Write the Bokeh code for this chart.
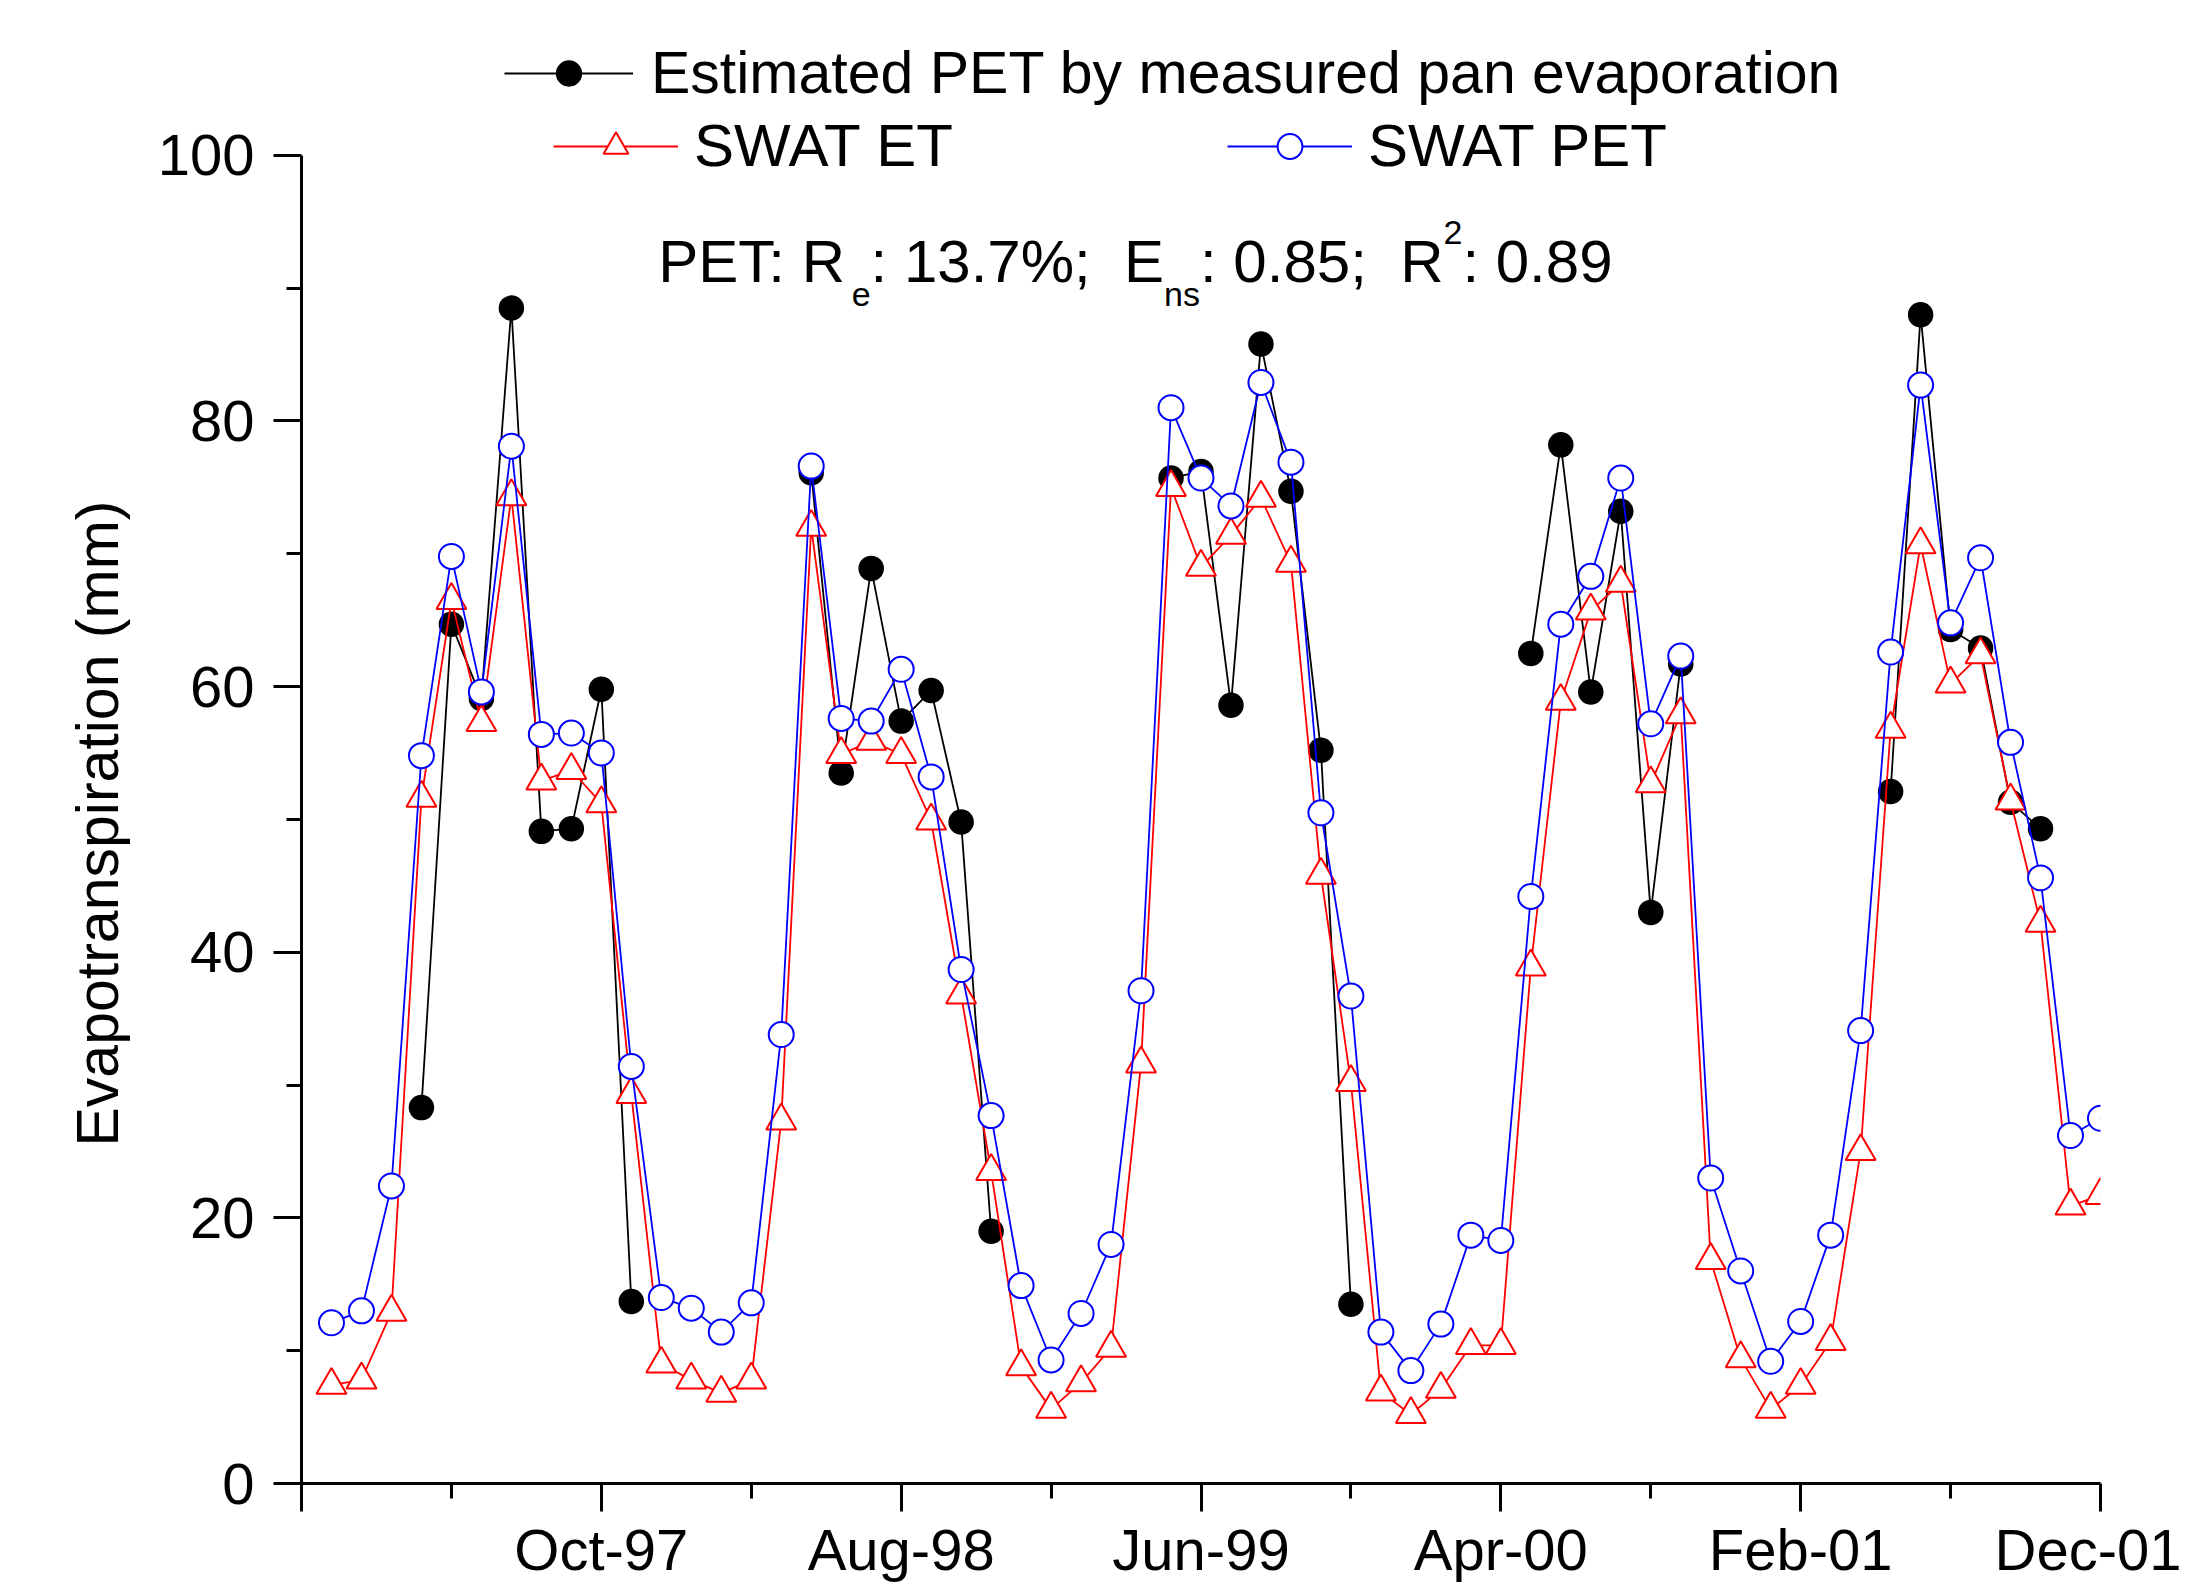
import math
from bokeh.plotting import figure
from bokeh.models import (ColumnDataSource, FixedTicker, Legend, LegendItem,
                          Label, Range1d, Title)
from bokeh.embed import file_html
from bokeh.resources import INLINE

# ---------------- data ----------------
month_names = ["Jan", "Feb", "Mar", "Apr", "May", "Jun",
               "Jul", "Aug", "Sep", "Oct", "Nov", "Dec"]
years = ["97", "98", "99", "00", "01"]
months = [f"{m}-{y}" for y in years for m in month_names]   # Jan-97 ... Dec-01

nan = float("nan")

estimated_pet = [nan, nan, nan, 28.3, 64.7, 59.1, 88.5, 49.1, 49.3, 59.8,
                 13.7, nan, nan, nan, nan, nan, 76.1, 53.5, 68.9, 57.4,
                 59.7, 49.8, 19.0, nan, nan, nan, nan, nan, 75.7, 76.2,
                 58.6, 85.8, 74.7, 55.2, 13.5, nan, nan, nan, nan, nan,
                 62.5, 78.2, 59.6, 73.2, 43.0, 61.7, nan, nan, nan, nan,
                 nan, nan, 52.1, 88.0, 64.3, 62.9, 51.3, 49.3, nan, nan]

swat_et = [7.4, 7.8, 12.9, 51.6, 66.5, 57.3, 74.3, 52.9, 53.7, 51.2,
           29.3, 9.0, 7.8, 6.8, 7.8, 27.3, 72.0, 54.9, 55.9, 54.9,
           49.9, 36.8, 23.5, 8.8, 5.6, 7.6, 10.2, 31.6, 75.0, 69.0,
           71.4, 74.2, 69.3, 45.8, 30.2, 6.9, 5.2, 7.1, 10.4, 10.4,
           38.9, 58.9, 65.7, 67.8, 52.7, 57.9, 16.8, 9.4, 5.6, 7.4,
           10.7, 25.0, 56.8, 70.7, 60.2, 62.4, 51.4, 42.2, 20.9, 21.7]

swat_pet = [12.1, 13.0, 22.4, 54.8, 69.8, 59.6, 78.1, 56.4, 56.5, 55.0,
            31.4, 14.0, 13.2, 11.4, 13.6, 33.8, 76.6, 57.6, 57.4, 61.3,
            53.2, 38.7, 27.7, 14.9, 9.3, 12.8, 18.0, 37.1, 81.0, 75.7,
            73.6, 82.9, 76.9, 50.5, 36.7, 11.4, 8.5, 12.0, 18.7, 18.3,
            44.2, 64.7, 68.3, 75.7, 57.2, 62.3, 23.0, 16.0, 9.2, 12.2,
            18.7, 34.1, 62.6, 82.7, 64.8, 69.7, 55.8, 45.6, 26.2, 27.5]

tick_labels = ["Oct-97", "Aug-98", "Jun-99", "Apr-00", "Feb-01", "Dec-01"]
y_ticks = [0, 20, 40, 60, 80, 100]
y_minor_ticks = [10, 30, 50, 70, 90]

series_names = ["Estimated PET by measured pan evaporation", "SWAT ET", "SWAT PET"]
y_title = "Evapotranspiration (mm)"
annotation_pieces = [("PET: R", "main"), ("e", "sub"), (": 13.7%;", "main"),
                     ("  ", "gap"), ("E", "main"), ("ns", "sub"),
                     (": 0.85;", "main"), ("  ", "gap"), ("R", "main"),
                     ("2", "sup"), (": 0.89", "main")]

# ---------------- build ----------------
x_idx = list(range(len(months)))
src = ColumnDataSource(dict(x=x_idx, pan=estimated_pet, et=swat_et, pet=swat_pet))

axis_start = -1                      # Dec-96, one month before the first record
x_end = months.index(tick_labels[-1])
y_axis_top = y_ticks[-1]
y_view_top = 110                     # head-room for the legend above the axis

FONT = "Liberation Sans"

p = figure(width=2181, height=1585,
           x_range=Range1d(axis_start, x_end), y_range=Range1d(0, y_view_top),
           output_backend="svg", toolbar_location=None,
           min_border_left=301, min_border_right=81,
           min_border_top=22, min_border_bottom=102)
p.background_fill_color = "white"
p.border_fill_color = "white"
p.outline_line_color = None
p.grid.visible = False

# series (black, then red, then blue on top)
rb_l = p.line("x", "pan", source=src, line_color="black", line_width=1.8)
rb_p = p.scatter("x", "pan", source=src, marker="circle", size=24,
                 fill_color="black", line_color="black", line_width=1.5)
rr_l = p.line("x", "et", source=src, line_color="#FF0000", line_width=1.8)
rr_p = p.scatter("x", "et", source=src, marker="triangle", size=30,
                 fill_color="white", line_color="#FF0000", line_width=2)
ru_l = p.line("x", "pet", source=src, line_color="#0000FF", line_width=1.8)
ru_p = p.scatter("x", "pet", source=src, marker="circle", size=25,
                 fill_color="white", line_color="#0000FF", line_width=2)

# axes
major_x = [axis_start] + [months.index(t) for t in tick_labels]
minor_x = [(a + b) / 2 for a, b in zip(major_x[:-1], major_x[1:])]
xa = p.xaxis[0]
xa.ticker = FixedTicker(ticks=major_x, minor_ticks=minor_x)
overrides = {axis_start: ""}
for t in tick_labels:
    overrides[months.index(t)] = t
xa.major_label_overrides = overrides
xa.major_label_standoff = 5

ya = p.yaxis[0]
ya.ticker = FixedTicker(ticks=y_ticks, minor_ticks=y_minor_ticks)
ya.bounds = (0, y_axis_top)
ya.major_label_standoff = 19

for ax in (xa, ya):
    ax.axis_line_width = 3
    ax.axis_line_color = "black"
    ax.major_tick_line_width = 3
    ax.minor_tick_line_width = 3
    ax.major_tick_line_color = "black"
    ax.minor_tick_line_color = "black"
    ax.major_tick_out = 28
    ax.major_tick_in = 0
    ax.minor_tick_out = 15
    ax.minor_tick_in = 0
    ax.major_label_text_font = FONT
    ax.major_label_text_font_size = "58px"
    ax.major_label_text_color = "black"

# y-axis title, placed along the 0..100 part of the axis
p.add_layout(Title(text=y_title, align="left", offset=337, vertical_align="bottom",
                   standoff=48, text_font=FONT, text_font_size="59px",
                   text_font_style="normal", text_color="black"), "left")

# legends (in the head-room above the axis)
leg_common = dict(padding=0, margin=0, border_line_color=None,
                  background_fill_alpha=0, label_text_font=FONT,
                  label_text_color="black", glyph_height=62)
leg1 = Legend(items=[LegendItem(label=series_names[0], renderers=[rb_l, rb_p])],
              location=(203, 1376), orientation="vertical",
              glyph_width=129, label_standoff=18, spacing=0,
              label_text_font_size="59px", **leg_common)
leg2 = Legend(items=[LegendItem(label=series_names[1], renderers=[rr_l, rr_p]),
                     LegendItem(label=series_names[2], renderers=[ru_l, ru_p])],
              location=(252, 1303), orientation="horizontal",
              glyph_width=125, label_standoff=16, spacing=274,
              label_text_font_size="60px", **leg_common)
p.add_layout(leg1)
p.add_layout(leg2)

# statistics annotation with sub/superscripts
ARIAL_W = {' ': .278, ':': .278, ';': .278, '.': .278, '%': .889, 'P': .667,
           'E': .667, 'T': .611, 'R': .722, 'e': .556, 'n': .556, 's': .5}


def text_w(s, size):
    return sum(ARIAL_W.get(c, .556) for c in s) * size


MAIN, SMALL = 60, 34
ann_x, ann_y = 10.9, 90.3
shift = {"main": 23, "sub": -10, "sup": 52}
offs = 0.0
for txt, kind in annotation_pieces:
    size = MAIN if kind in ("main", "gap") else SMALL
    if kind != "gap":
        p.add_layout(Label(x=ann_x, y=ann_y, x_offset=offs, y_offset=shift[kind],
                           text=txt, text_font=FONT,
                           text_font_size=f"{size}px", text_color="black",
                           text_align="left", text_baseline="alphabetic"))
    offs += text_w(txt, size)

open("out.html", "w").write(file_html(p, INLINE))
